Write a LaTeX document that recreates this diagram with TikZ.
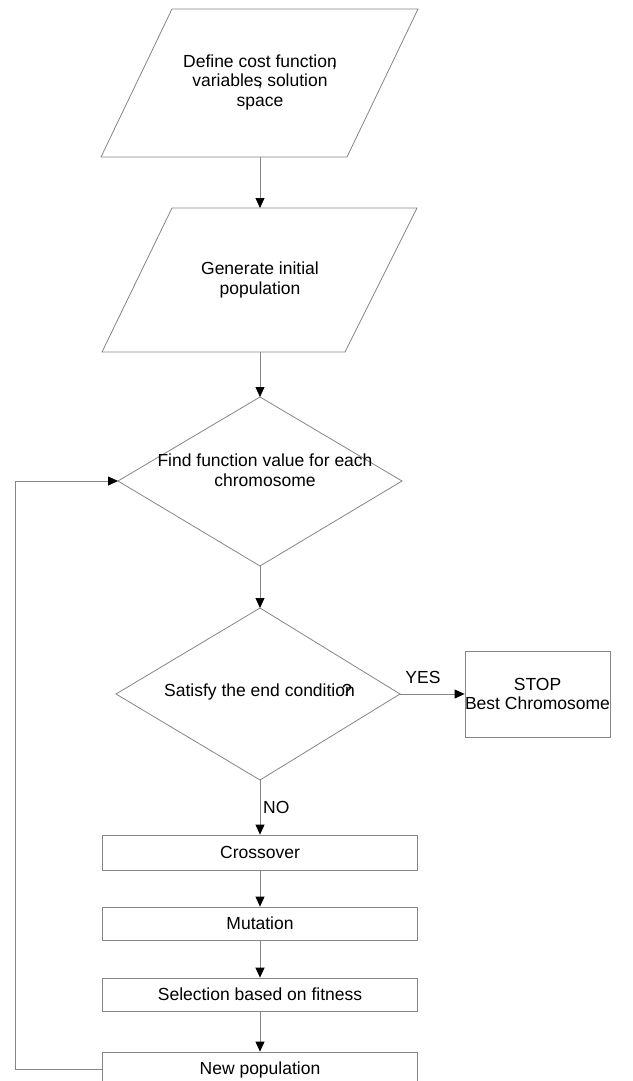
\documentclass[tikz,border=0pt]{standalone}
\usepackage{fontspec}
\setmainfont{Liberation Sans}
\usetikzlibrary{arrows.meta}
\definecolor{lncol}{HTML}{858585}
\begin{document}
\begin{tikzpicture}[x=1pt,y=-1pt,
  ln/.style={draw=lncol, line width=0.8pt},
  arr/.style={ln, -{Triangle[width=9pt,length=10pt,color=black]}},
  txt/.style={font=\fontsize{17.5}{19.5}\selectfont, align=center, inner sep=0pt, text=black},
  stepbox/.style={draw=lncol, line width=0.8pt, txt, minimum width=315pt, minimum height=34pt},
]
\useasboundingbox (0,0) rectangle (632,1081);
% parallelogram 1
\coordinate (p1tl) at (172,9);
\coordinate (p1tr) at (418,9);
\coordinate (p1br) at (347,157);
\coordinate (p1bl) at (101,157);
\draw[ln] (p1tl) -- (p1tr) -- (p1br) -- (p1bl) -- cycle;
\node[txt] (p1) at (260,82) {Define cost function\llap{,}\\variables\llap{,} solution\\space};
\coordinate (p1b) at (260,157);
% parallelogram 2
\coordinate (p2tl) at (172,208);
\coordinate (p2tr) at (417,208);
\coordinate (p2br) at (345,352);
\coordinate (p2bl) at (102,352);
\draw[ln] (p2tl) -- (p2tr) -- (p2br) -- (p2bl) -- cycle;
\node[txt] (p2) at (260,280) {Generate initial\\population};
\coordinate (p2t) at (260,208);
\coordinate (p2b) at (260,352);
% diamond 1
\coordinate (d1t) at (260,397);
\coordinate (d1l) at (118,481);
\coordinate (d1r) at (402,481);
\coordinate (d1b) at (260,566);
\draw[ln] (d1t) -- (d1r) -- (d1b) -- (d1l) -- cycle;
\node[txt] (d1) at (265,470) {Find function value for each\\chromosome};
% diamond 2
\coordinate (d2t) at (260,608);
\coordinate (d2l) at (116,694);
\coordinate (d2r) at (400,694);
\coordinate (d2b) at (260,780);
\draw[ln] (d2t) -- (d2r) -- (d2b) -- (d2l) -- cycle;
\node[txt] (d2) at (259.5,692) {Satisfy the end conditio\rlap{\kern-3pt ?}n};
% stop box
\node[stepbox, minimum width=145pt, minimum height=86pt] (stop) at (537.5,694) {STOP\\Best Chromosome};
\node[txt] (yes) at (423,677) {YES};
\node[txt, anchor=west] (no) at (263,807) {NO};
% process boxes
\node[stepbox, minimum height=35pt] (cross) at (260,852.5) {Crossover};
\node[stepbox, minimum height=33pt] (mut) at (260,923.5) {Mutation};
\node[stepbox, minimum height=33pt] (sel) at (260,994.5) {Selection based on fitness};
\node[stepbox, minimum height=35pt] (newp) at (260,1069.5) {New population};
\coordinate (lp) at (15,1069.5);
% connectors
\draw[arr] (p1b) -- (p2t);
\draw[arr] (p2b) -- (d1t);
\draw[arr] (d1b) -- (d2t);
\draw[arr] (d2r) -- (stop.west);
\draw[arr] (d2b) -- (cross.north);
\draw[arr] (cross.south) -- (mut.north);
\draw[arr] (mut.south) -- (sel.north);
\draw[arr] (sel.south) -- (newp.north);
\draw[arr] (newp.west) -- (lp) |- (d1l);
\end{tikzpicture}
\end{document}
